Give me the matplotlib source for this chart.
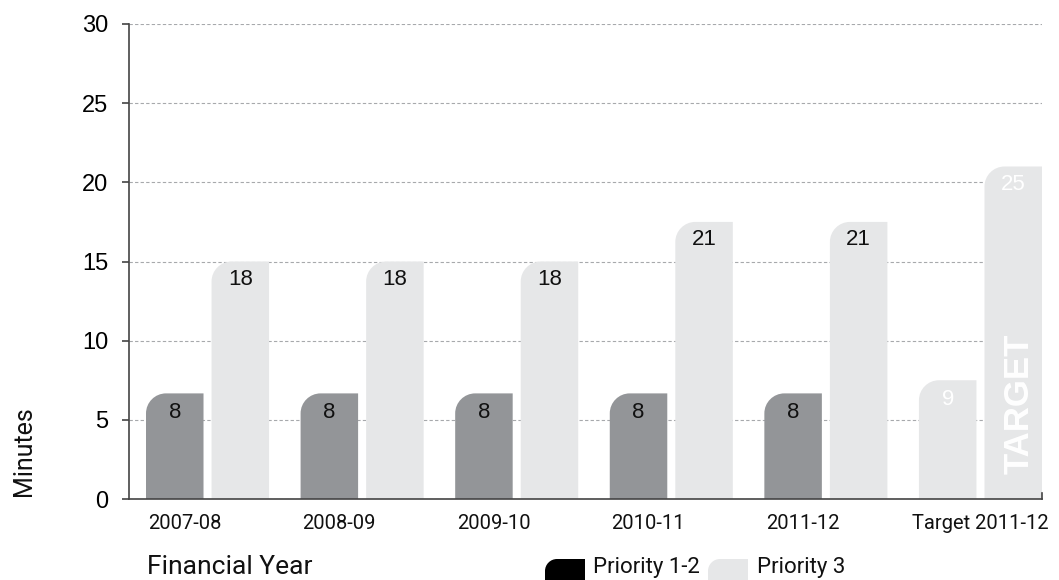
import matplotlib
matplotlib.use("Agg")
import matplotlib.pyplot as plt
from matplotlib.path import Path
from matplotlib.patches import PathPatch
import numpy as np

# data
years = ["2007-08", "2008-09", "2009-10", "2010-11", "2011-12", "Target 2011-12"]
p12_height = [6.67, 6.67, 6.67, 6.67, 6.67, None]
p3_height = [15, 15, 15, 17.5, 17.5, 21]
p12_label = [8, 8, 8, 8, 8, None]
p3_label = [18, 18, 18, 21, 21, 25]
target_p12_height = 7.5
target_p12_label = 9

DARK = "#939598"
LIGHT = "#e6e7e8"
W, H = 1059, 580

fig = plt.figure(figsize=(W / 100, H / 100), dpi=100)
ax = fig.add_axes([129 / W, 81 / H, (1042 - 129) / W, (499 - 24) / H])
ax.set_xlim(-0.508, 5.398)
ax.set_ylim(0, 30)

# pixels per data unit, to keep the corner round on screen
p0 = ax.transData.transform((0, 0))
p1 = ax.transData.transform((1, 1))
rx = 20 / (p1[0] - p0[0])
ry = 20 / (p1[1] - p0[1])
K = 0.5523


def rounded_bar(ax, xc, h, width, color):
    x0, x1 = xc - width / 2, xc + width / 2
    verts = [(x0, 0), (x1, 0), (x1, h), (x0 + rx, h),
             (x0 + rx * (1 - K), h), (x0, h - ry * (1 - K)), (x0, h - ry),
             (x0, 0)]
    codes = [Path.MOVETO, Path.LINETO, Path.LINETO, Path.LINETO,
             Path.CURVE4, Path.CURVE4, Path.CURVE4, Path.CLOSEPOLY]
    ax.add_patch(PathPatch(Path(verts, codes), facecolor=color, edgecolor="none", zorder=2))


bw = 0.372
off = 0.212
x = np.arange(len(years))
lab_font = dict(family="Liberation Sans", fontsize=16)

for i in range(len(years)):
    if p12_height[i] is not None:
        rounded_bar(ax, x[i] - off, p12_height[i], bw, DARK)
        ax.annotate(str(p12_label[i]), (x[i] - off, p12_height[i]), xytext=(0, -14),
                    textcoords="offset points", ha="center", va="center", color="#111111", **lab_font)
    else:
        rounded_bar(ax, x[i] - off, target_p12_height, bw, LIGHT)
        ax.annotate(str(target_p12_label), (x[i] - off, target_p12_height), xytext=(0, -14),
                    textcoords="offset points", ha="center", va="center", color="white", **lab_font)
    rounded_bar(ax, x[i] + off, p3_height[i], bw, LIGHT)
    col = "white" if i == len(years) - 1 else "#111111"
    ax.annotate(str(p3_label[i]), (x[i] + off, p3_height[i]), xytext=(0, -13),
                textcoords="offset points", ha="center", va="center", color=col, **lab_font)

ax.text(x[-1] + off + 0.04, 6.0, "TARGET", rotation=90, ha="center", va="center",
        color="white", family="Liberation Sans", fontweight="bold", fontsize=25, zorder=3)

# grid and axes
ax.set_yticks(range(0, 31, 5))
ax.yaxis.grid(True, color="#a7a9ac", linestyle=(0, (3, 2)), linewidth=0.8, zorder=0)
ax.set_axisbelow(True)
for s in ["top", "right"]:
    ax.spines[s].set_visible(False)
ax.spines["left"].set_color("#444444")
ax.spines["bottom"].set_color("#444444")
ax.spines["left"].set_linewidth(1.2)
ax.spines["bottom"].set_linewidth(1.2)
ax.tick_params(axis="y", length=5, width=1.2, color="#444444", pad=10, labelsize=17)
for t in ax.get_yticklabels():
    t.set_family("Liberation Sans")

tick_pos = [x[i] - 0.15 if i < len(years) - 1 else x[i] for i in range(len(years))]
ax.set_xticks(tick_pos)
ax.set_xticklabels(years, family="Roboto", fontsize=14.5, color="#111111")
ax.tick_params(axis="x", length=0, pad=11)
ax.plot([5.398, 5.398], [0, 0.35], color="#444444", lw=1.2, clip_on=False)

fig.text(147 / W, 1 - 567 / H, "Financial Year", family="Roboto", fontsize=19,
         ha="left", va="center", color="#111111")
fig.text(24 / W, 1 - 451 / H, "Minutes", family="Roboto", fontsize=18, rotation=90,
         ha="center", va="center", color="#111111")


# legend with the same corner shape
def swatch(x0, y0, w, h, color, r=12):
    fx0, fx1 = x0 / W, (x0 + w) / W
    fy0, fy1 = 1 - (y0 + h) / H, 1 - y0 / H
    sx, sy = r / W, r / H
    verts = [(fx0, fy0), (fx1, fy0), (fx1, fy1), (fx0 + sx, fy1),
             (fx0 + sx * (1 - K), fy1), (fx0, fy1 - sy * (1 - K)), (fx0, fy1 - sy),
             (fx0, fy0)]
    codes = [Path.MOVETO, Path.LINETO, Path.LINETO, Path.LINETO,
             Path.CURVE4, Path.CURVE4, Path.CURVE4, Path.CLOSEPOLY]
    fig.patches.append(PathPatch(Path(verts, codes), facecolor=color, edgecolor="none",
                                 transform=fig.transFigure))


swatch(545, 559, 40, 21, "black")
fig.text(593 / W, 1 - 568 / H, "Priority 1-2", family="Roboto", fontsize=16,
         ha="left", va="center", color="#111111")
swatch(708, 559, 40, 21, LIGHT)
fig.text(757 / W, 1 - 568 / H, "Priority 3", family="Roboto", fontsize=16,
         ha="left", va="center", color="#111111")

fig.savefig("out.png", dpi=100)
